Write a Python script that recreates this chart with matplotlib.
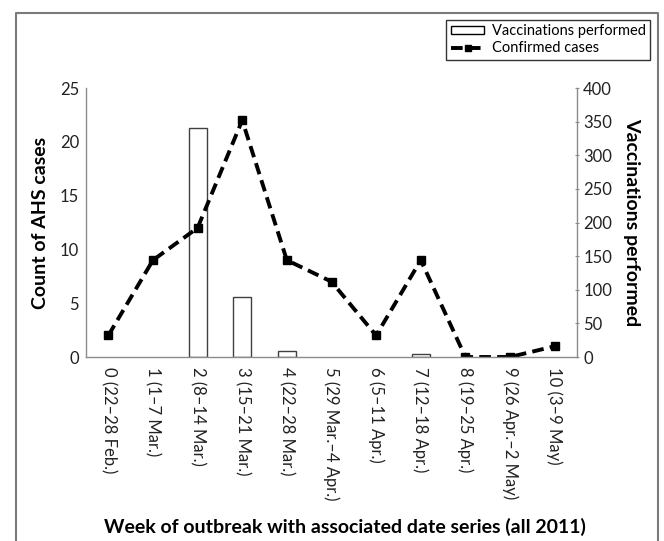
import matplotlib
matplotlib.use("Agg")
import matplotlib.pyplot as plt
from matplotlib.lines import Line2D
from matplotlib.patches import Patch
import numpy as np

# week labels (rotated on the x axis)
weeks = [
    "0 (22–28 Feb.)",
    "1 (1–7 Mar.)",
    "2 (8–14 Mar.)",
    "3 (15–21 Mar.)",
    "4 (22–28 Mar.)",
    "5 (29 Mar.–4 Apr.)",
    "6 (5–11 Apr.)",
    "7 (12–18 Apr.)",
    "8 (19–25 Apr.)",
    "9 (26 Apr.–2 May)",
    "10 (3–9 May)",
]
confirmed_cases = [2, 9, 12, 22, 9, 7, 2, 9, 0, 0, 1]
vaccinations = [0, 0, 340, 89, 9, 0, 0, 5, 0, 0, 0]

left_ticks = [0, 5, 10, 15, 20, 25]
right_ticks = [0, 50, 100, 150, 200, 250, 300, 350, 400]

plt.rcParams["font.family"] = ["Lato", "DejaVu Sans"]
grey = "#8c8c8c"
txt = "#222222"

fig = plt.figure(figsize=(6.64, 5.41), dpi=100)
ax = fig.add_axes([86 / 664, 1 - 357 / 541, (577 - 86) / 664, (357 - 88) / 541])
ax2 = ax.twinx()

x = np.arange(len(weeks))
vacc = np.array(vaccinations, dtype=float)
shown = vacc > 0  # empty weeks have no bar outline

ax2.bar(x[shown], vacc[shown], width=0.4, color="white", edgecolor="#404040", linewidth=1)
ax.plot(x, confirmed_cases, color="black", linestyle=(0, (3, 1.6)), linewidth=2.8,
        marker="s", markersize=6)

# line above bars
ax.set_zorder(ax2.get_zorder() + 1)
ax.patch.set_visible(False)

ax.set_xlim(-0.5, len(weeks) - 0.5)
ax.set_ylim(0, 25)
ax2.set_ylim(0, 400)
ax.set_yticks(left_ticks)
ax2.set_yticks(right_ticks)
ax.set_xticks(x)
ax.set_xticklabels(weeks, rotation=270, va="top", ha="center", fontsize=12)

for a in (ax, ax2):
    for s in a.spines.values():
        s.set_visible(False)
ax.spines["left"].set_visible(True)
ax.spines["bottom"].set_visible(True)
ax2.spines["right"].set_visible(True)
for s in (ax.spines["left"], ax.spines["bottom"], ax2.spines["right"]):
    s.set_color(grey)
    s.set_linewidth(1)

ax.tick_params(axis="y", length=0, labelsize=12, colors=txt, pad=5)
ax.tick_params(axis="x", length=0, colors=txt, pad=7)
ax2.tick_params(axis="y", length=3, direction="inout", color=grey,
                labelsize=12, labelcolor=txt, pad=3)

ax.set_ylabel("Count of AHS cases", fontsize=14, fontweight="bold", labelpad=8)
ax2.set_ylabel("Vaccinations performed", fontsize=14, fontweight="bold",
               rotation=270, labelpad=20)
fig.text(345 / 664, 1 - 527 / 541,
         "Week of outbreak with associated date series (all 2011)",
         ha="center", va="center", fontsize=14, fontweight="bold")

handles = [
    Patch(facecolor="white", edgecolor="black", linewidth=1),
    Line2D([0], [0], color="black", linestyle=(0, (3, 1.6)), linewidth=2.8,
           marker="s", markersize=5),
]
leg = fig.legend(handles, ["Vaccinations performed", "Confirmed cases"],
                 loc="upper right", bbox_to_anchor=(650 / 664, 1 - 20 / 541),
                 fontsize=10.5, frameon=True, fancybox=False, borderpad=0.3,
                 handlelength=2.3, handleheight=0.45, labelspacing=0.2,
                 handletextpad=0.5, borderaxespad=0)
leg.get_frame().set_edgecolor("black")
leg.get_frame().set_linewidth(1)

# outer frame (no bottom edge)
fl, fr, ft = 16 / 664, 658 / 664, 1 - 13 / 541
fig.add_artist(Line2D([fl, fl, fr, fr], [0, ft, ft, 0], color="#7a7a7a",
                      linewidth=1.5, transform=fig.transFigure))

fig.savefig("out.png", dpi=100)
